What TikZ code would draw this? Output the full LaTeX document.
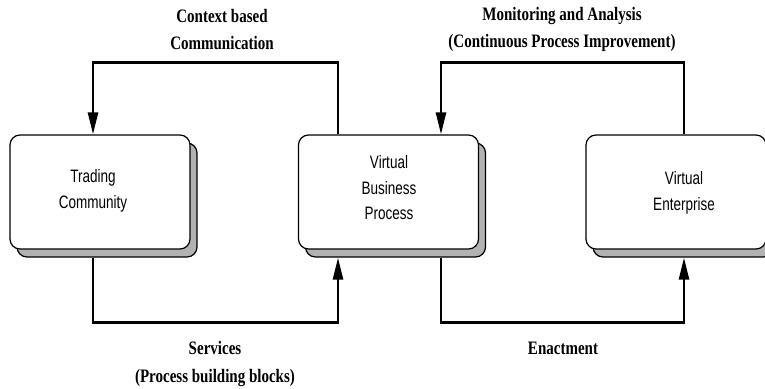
\documentclass[tikz,border=0pt]{standalone}
\usepackage{fontspec}
\newfontfamily\labelfont[FakeStretch=0.79]{Liberation Serif}
\newfontfamily\boxfont[FakeStretch=0.75]{Liberation Sans}
\usetikzlibrary{arrows.meta,shadows}

\tikzset{
  proc/.style={draw, line width=1.2pt, rounded corners=10pt, fill=white,
    minimum width=180pt, minimum height=114pt,
    drop shadow={shadow xshift=7pt, shadow yshift=-8pt, fill=black!30,
      draw=black, line width=1.2pt, opacity=1}},
  proctext/.style={align=center, font=\boxfont\fontsize{18}{25.5}\selectfont},
  flowlabel/.style={align=center, font=\labelfont\bfseries\fontsize{19}{27.5}\selectfont},
  flow/.style={line width=2.6pt, -{Triangle[length=22pt,width=10pt]}}
}

\begin{document}
\begin{tikzpicture}[x=1pt,y=-1pt]
    \useasboundingbox (0,0) rectangle (765,388);

    % the three parties
    \node[proc] (tc) at (100,192) {};
    \node[proc] (vbp) at (388.5,192) {};
    \node[proc] (ve) at (676,192) {};
    \node[proctext] (tct) at (93,191) {Trading\\Community};
    \node[proctext] (vbpt) at (389,188) {Virtual\\Business\\Process};
    \node[proctext] (vet) at (684,193) {Virtual\\Enterprise};

    % feedback loops on top
    \draw[flow] ([xshift=-50.5pt]vbp.north) -- ++(0,-72) -| ([xshift=-7pt]tc.north);
    \draw[flow] ([xshift=8pt]ve.north) -- ++(0,-72) -| ([xshift=52.5pt]vbp.north);

    % forward flows below
    \draw[flow] ([xshift=-7pt,yshift=-8pt]tc.south) -- ++(0,65) -| ([xshift=-50.5pt,yshift=-8pt]vbp.south);
    \draw[flow] ([xshift=52.5pt,yshift=-8pt]vbp.south) -- ++(0,65) -| ([xshift=8pt,yshift=-8pt]ve.south);

    \node[flowlabel] (ctx) at (222,29.5) {Context based\\Communication};
    \node[flowlabel] (mon) at (562,29.5) {Monitoring and Analysis\\(Continuous Process Improvement)};
    \node[flowlabel] (svc) at (215,364) {Services\\(Process building blocks)};
    \node[flowlabel] (enact) at (563,348) {Enactment};
\end{tikzpicture}
\end{document}
